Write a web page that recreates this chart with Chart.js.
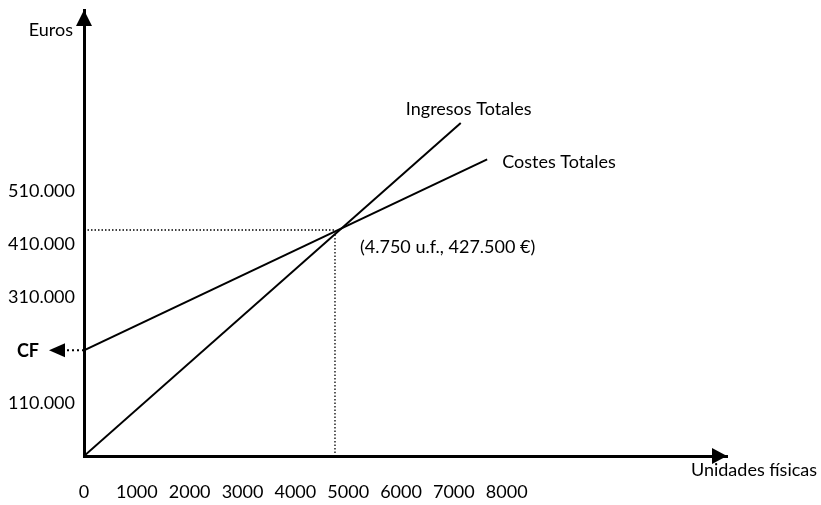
<!DOCTYPE html>
<html>
<head>
<meta charset="utf-8">
<script src="https://cdn.jsdelivr.net/npm/chart.js@4/dist/chart.umd.min.js"></script>
<style>
html,body{margin:0;padding:0;background:#fff;}
#wrap{width:821px;height:505px;position:relative;}
</style>
</head>
<body>
<div id="wrap"><canvas id="c" width="821" height="505"></canvas></div>
<script>
// ---- data ----
const unitsIngresos = [0, 7130];
const eurosIngresos = [0, 630000];
const unitsCostes = [0, 7630];
const eurosCostes = [200000, 561000];
const breakEvenUnits = 4750;
const breakEvenEuros = 427500;
const fixedCost = 200000;
const xTickValues = [0, 1000, 2000, 3000, 4000, 5000, 6000, 7000, 8000];
const yTickValues = [100000, 300000, 400000, 500000];
const yTickLabels = ['110.000', '310.000', '410.000', '510.000'];
const seriesNames = ['Ingresos Totales', 'Costes Totales'];
const xTitle = 'Unidades físicas';
const yTitle = 'Euros';
const breakEvenLabel = '(4.750 u.f., 427.500 €)';
const cfLabel = 'CF';

const FONT = 'Lato, "Open Sans", sans-serif';

const pts = (xs, ys) => xs.map((x, i) => ({x, y: ys[i]}));

const decor = {
  id: 'decor',
  afterDatasetsDraw(chart) {
    const {ctx, chartArea: a, scales: {x, y}} = chart;
    ctx.save();
    ctx.fillStyle = '#000';
    // y axis arrow
    ctx.beginPath();
    ctx.moveTo(a.left, a.top);
    ctx.lineTo(a.left - 8, a.top + 16);
    ctx.lineTo(a.left + 8, a.top + 16);
    ctx.closePath(); ctx.fill();
    // x axis arrow
    ctx.beginPath();
    ctx.moveTo(a.right, a.bottom);
    ctx.lineTo(a.right - 15, a.bottom - 8);
    ctx.lineTo(a.right - 15, a.bottom + 8);
    ctx.closePath(); ctx.fill();

    // CF arrow + dotted line
    const cy = y.getPixelForValue(fixedCost);
    ctx.strokeStyle = '#000';
    ctx.lineWidth = 2;
    ctx.setLineDash([2, 3]);
    ctx.beginPath();
    ctx.moveTo(a.left, cy); ctx.lineTo(a.left - 19, cy); ctx.stroke();
    ctx.setLineDash([]);
    ctx.beginPath();
    ctx.moveTo(a.left - 35, cy);
    ctx.lineTo(a.left - 19, cy - 7);
    ctx.lineTo(a.left - 19, cy + 7);
    ctx.closePath(); ctx.fill();

    ctx.textBaseline = 'middle';
    ctx.font = 'bold 18px ' + FONT;
    ctx.textAlign = 'center';
    ctx.fillText(cfLabel, a.left - 56, cy + 1);

    ctx.font = '18px ' + FONT;
    ctx.textAlign = 'right';
    ctx.fillText(yTitle, a.left - 11, a.top + 20);
    ctx.textAlign = 'center';
    ctx.fillText(xTitle, a.right + 27, a.bottom + 14);

    // series labels at line ends
    const ix = x.getPixelForValue(unitsIngresos[1]);
    const iy = y.getPixelForValue(eurosIngresos[1]);
    ctx.textAlign = 'center';
    ctx.fillText(seriesNames[0], ix + 8, iy - 14);
    const kx = x.getPixelForValue(unitsCostes[1]);
    const ky = y.getPixelForValue(eurosCostes[1]);
    ctx.textAlign = 'left';
    ctx.fillText(seriesNames[1], kx + 15, ky + 3);

    const bx = x.getPixelForValue(breakEvenUnits);
    const by = y.getPixelForValue(breakEvenEuros);
    ctx.fillText(breakEvenLabel, bx + 25, by + 17);
    ctx.restore();
  }
};

new Chart(document.getElementById('c'), {
  type: 'scatter',
  data: {
    datasets: [
      {label: seriesNames[0], data: pts(unitsIngresos, eurosIngresos), showLine: true,
       borderColor: '#000', borderWidth: 2, pointRadius: 0, order: 1},
      {label: seriesNames[1], data: pts(unitsCostes, eurosCostes), showLine: true,
       borderColor: '#000', borderWidth: 2, pointRadius: 0, order: 1},
      {label: 'break-even', data: [{x: 0, y: breakEvenEuros}, {x: breakEvenUnits, y: breakEvenEuros}, {x: breakEvenUnits, y: 0}],
       showLine: true, borderColor: '#000', borderWidth: 1.3, borderDash: [1.5, 2], pointRadius: 0, order: 2}
    ]
  },
  options: {
    responsive: false,
    animation: false,
    events: [],
    layout: {padding: {left: 0, right: 94, top: 10, bottom: 0}},
    plugins: {legend: {display: false}, tooltip: {enabled: false}},
    scales: {
      x: {
        type: 'linear', min: 0, max: 12169,
        grid: {display: false, drawTicks: false},
        border: {display: true, color: '#000', width: 3},
        afterBuildTicks: s => { s.ticks = xTickValues.map(v => ({value: v})); },
        afterFit: s => { s.height = 49; s.paddingLeft = 0; s.paddingRight = 0; },
        ticks: {color: '#000', padding: 25, maxRotation: 0, autoSkip: false,
                font: {family: FONT, size: 18}, callback: v => String(v)}
      },
      y: {
        type: 'linear', min: 0, max: 843600,
        grid: {display: false, drawTicks: false},
        border: {display: true, color: '#000', width: 3},
        afterBuildTicks: s => { s.ticks = yTickValues.map(v => ({value: v})); },
        afterFit: s => { s.width = 84; s.paddingTop = 0; s.paddingBottom = 0; },
        ticks: {color: '#000', padding: 9, autoSkip: false,
                font: {family: FONT, size: 18},
                callback: v => { const i = yTickValues.indexOf(v); return i >= 0 ? yTickLabels[i] : ''; }}
      }
    }
  },
  plugins: [decor]
});
</script>
</body>
</html>
